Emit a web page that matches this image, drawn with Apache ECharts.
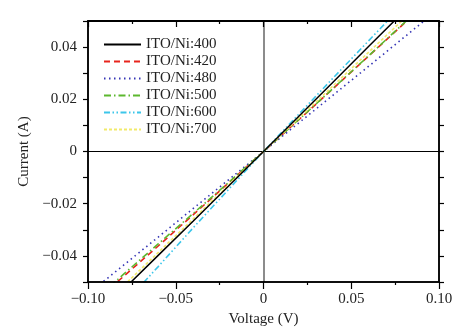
<!DOCTYPE html>
<html>
<head>
<meta charset="utf-8">
<script src="https://cdn.jsdelivr.net/npm/echarts@6/dist/echarts.min.js"></script>
<style>html,body{margin:0;padding:0;background:#fff}#c{width:469px;height:333px}</style>
</head>
<body>
<div id="c"></div>
<script>
// Data
const voltage = [-0.1, -0.08, -0.06, -0.04, -0.02, 0, 0.02, 0.04, 0.06, 0.08, 0.1];
const seriesNames = ['ITO/Ni:400', 'ITO/Ni:420', 'ITO/Ni:480', 'ITO/Ni:500', 'ITO/Ni:600', 'ITO/Ni:700'];
const cur400 = [-0.066, -0.053, -0.0398, -0.0266, -0.0133, 0, 0.0134, 0.0268, 0.0403, 0.0537, 0.0672];
const cur420 = [-0.060, -0.048, -0.0362, -0.0242, -0.0121, 0, 0.0121, 0.0243, 0.0366, 0.0490, 0.0612];
const cur480 = [-0.0546, -0.0437, -0.0328, -0.0218, -0.0109, 0, 0.0109, 0.0218, 0.0327, 0.0437, 0.0547];
const cur500 = [-0.059, -0.0472, -0.0354, -0.0237, -0.0119, 0, 0.0122, 0.0244, 0.0367, 0.0492, 0.0615];
const cur600 = [-0.0735, -0.0588, -0.0441, -0.0292, -0.0146, 0, 0.0142, 0.0284, 0.0425, 0.0566, 0.0707];
const cur700 = [-0.0645, -0.0516, -0.0387, -0.0258, -0.0129, 0, 0.0127, 0.0254, 0.0381, 0.0508, 0.0635];
const yTickLabels = [-0.04, -0.02, 0, 0.02, 0.04];

const currents = [cur400, cur420, cur480, cur500, cur600, cur700];
const colors = ['#000000', '#e8241c', '#3535b5', '#5cb82e', '#3cc6ea', '#f2ea6a'];
const dashes = ['solid', [6, 4], [1.5, 3.5], [7, 3, 1.5, 3], [6, 2.5, 1.5, 2.5, 1.5, 2.5], [3, 2]];

const FONT = 'Liberation Serif';
const fmt = v => {
  if (Math.abs(v) < 1e-9) return '0';
  const s = Math.abs(v).toFixed(2);
  return (v < 0 ? '\u2212' : '') + s;
};

const chart = echarts.init(document.getElementById('c'), null, {renderer: 'canvas'});
const xBase = {type: 'value', min: -0.1, max: 0.1, interval: 0.05, splitLine: {show: false}, z: 20};
const yBase = {type: 'value', min: -0.05, max: 0.05, interval: 0.01, splitLine: {show: false}, z: 20};

const series = seriesNames.map((n, i) => ({
  name: n,
  type: 'line',
  showSymbol: false,
  symbol: 'none',
  data: voltage.map((v, k) => [v, currents[i][k]]),
  lineStyle: {color: colors[i], width: i === 0 ? 1.5 : 1.6, type: dashes[i]},
  itemStyle: {color: colors[i]},
  z: 3 + (i === 0 ? 6 : i)
}));
series.push({
  name: 'zero', type: 'line', data: [[0, 0]], symbol: 'none', lineStyle: {opacity: 0}, silent: true,
  markLine: {
    silent: true, symbol: 'none', label: {show: false},
    data: [
      {xAxis: 0, lineStyle: {color: '#666', width: 1.5, type: 'solid'}},
      {yAxis: 0, lineStyle: {color: '#000', width: 1, type: 'solid'}}
    ]
  },
  z: 1
});

chart.setOption({
  animation: false,
  grid: {left: 88, right: 30, top: 21, bottom: 51, show: true, borderColor: '#000', borderWidth: 1.5, z: 15},
  legend: {
    orient: 'vertical', left: 98, top: 32,
    itemWidth: 37, itemHeight: 15, itemGap: 2,
    data: seriesNames,
    itemStyle: {opacity: 0},
    textStyle: {fontFamily: FONT, fontSize: 15, color: '#222'}
  },
  xAxis: [
    Object.assign({}, xBase, {
      position: 'bottom',
      name: 'Voltage (V)', nameLocation: 'middle', nameGap: 30,
      nameTextStyle: {fontFamily: FONT, fontSize: 15, color: '#222'},
      axisLine: {show: true, onZero: false, lineStyle: {color: '#000', width: 1.5}},
      axisTick: {show: true, inside: false, length: 7, lineStyle: {color: '#000', width: 1.2}},
      minorTick: {show: true, splitNumber: 2, length: 3, lineStyle: {color: '#000', width: 1.2}},
      axisLabel: {fontFamily: FONT, fontSize: 15, color: '#222', margin: 10, formatter: fmt}
    }),
    Object.assign({}, xBase, {
      position: 'top',
      axisLine: {show: true, onZero: false, lineStyle: {color: '#000', width: 2}},
      axisTick: {show: true, inside: true, length: 6, lineStyle: {color: '#000', width: 1.2}},
      minorTick: {show: true, splitNumber: 2, length: 3, lineStyle: {color: '#000', width: 1.2}},
      axisLabel: {show: false}
    })
  ],
  yAxis: [
    Object.assign({}, yBase, {
      position: 'left',
      name: 'Current (A)', nameLocation: 'middle', nameGap: 44,
      nameTextStyle: {fontFamily: FONT, fontSize: 15, color: '#222'},
      axisLine: {show: true, onZero: false, lineStyle: {color: '#000', width: 1.5}},
      axisTick: {show: true, inside: false, length: 5, lineStyle: {color: '#000', width: 1.2}},
      axisLabel: {fontFamily: FONT, fontSize: 15, color: '#222', margin: 11, formatter: fmt,
                  customValues: yTickLabels}
    }),
    Object.assign({}, yBase, {
      position: 'right',
      axisLine: {show: true, onZero: false, lineStyle: {color: '#000', width: 1.5}},
      axisTick: {show: true, inside: false, length: 5, lineStyle: {color: '#000', width: 1.2}},
      axisLabel: {show: false}
    })
  ],
  series: series
});
</script>
</body>
</html>
